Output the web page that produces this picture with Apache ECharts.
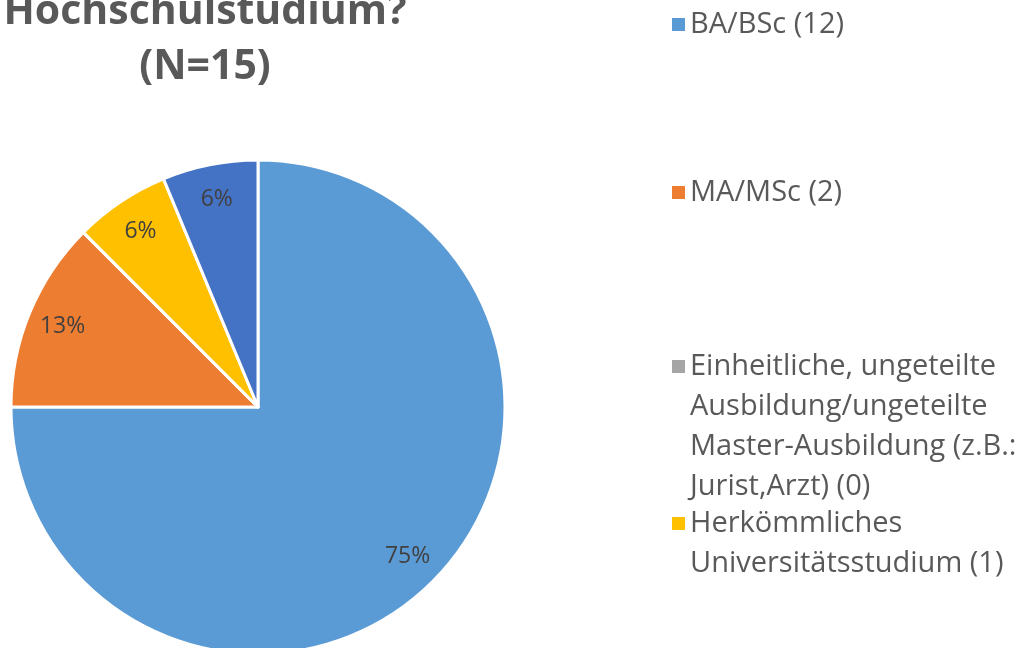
<!DOCTYPE html>
<html><head><meta charset="utf-8">
<script src="https://cdn.jsdelivr.net/npm/echarts@6/dist/echarts.min.js"></script>
<style>html,body{margin:0;padding:0;background:#fff}#c{width:1022px;height:648px}</style>
</head><body><div id="c"></div>
<script>
const titleText = 'Hochschulstudium?\n(N=15)';
const categories = ['BA/BSc (12)', 'MA/MSc (2)', 'Einheitliche, ungeteilte Ausbildung/ungeteilte Master-Ausbildung (z.B.: Jurist,Arzt) (0)', 'Herkömmliches Universitätsstudium (1)', 'Sonstiges (1)'];
const legendLabels = ['BA/BSc (12)', 'MA/MSc (2)', 'Einheitliche, ungeteilte\nAusbildung/ungeteilte\nMaster-Ausbildung (z.B.:\nJurist,Arzt) (0)', 'Herkömmliches\nUniversitätsstudium (1)', 'Sonstiges (1)'];
const values = [12, 2, 0, 1, 1];
const colors = ['#5B9BD5', '#ED7D31', '#A5A5A5', '#FFC000', '#4472C4'];

const FONT = '"Open Sans", sans-serif';
const iconTops = [18, 186, 360, 517, 720];
const LH = 40;
const total = values.reduce((a, b) => a + b, 0);

const chart = echarts.init(document.getElementById('c'));
chart.setOption({
  animation: false,
  backgroundColor: '#fff',
  title: {
    text: titleText, left: 200, top: -20, textAlign: 'center',
    textStyle: { fontFamily: FONT, fontSize: 41, fontWeight: 'bold', color: '#595959', lineHeight: 55 }
  },
  legend: categories.map((name, i) => {
    const lines = legendLabels[i].split('\n');
    const n = lines.length;
    // prepend empty lines so that the first text line sits level with the icon
    const txt = new Array(n - 1).fill('').concat(lines).join('\n');
    return {
      data: [name], left: 672, top: iconTops[i] + 6.5 - (2 * n - 1) * LH / 2,
      padding: 0, orient: 'vertical', icon: 'rect', itemWidth: 13, itemHeight: 13, itemGap: 0,
      selectedMode: false,
      itemStyle: { borderWidth: 0 },
      formatter: () => txt,
      textStyle: { fontFamily: FONT, fontSize: 29, color: '#595959', lineHeight: LH }
    };
  }),
  series: [
    {
      type: 'pie', center: [258, 407], radius: [0, 247], startAngle: 90, clockwise: true,
      avoidLabelOverlap: false, emphasis: { disabled: true },
      itemStyle: { borderColor: '#fff', borderWidth: 3 },
      label: { show: false }, labelLine: { show: false },
      data: categories.map((n, i) => ({ name: n, value: values[i], itemStyle: { color: colors[i] } }))
    },
    {
      type: 'pie', center: [258, 407], radius: [170, 247], startAngle: 90, clockwise: true,
      avoidLabelOverlap: false, silent: true, emphasis: { disabled: true },
      itemStyle: { color: 'rgba(0,0,0,0)', borderWidth: 0 },
      labelLine: { show: false },
      label: {
        show: true, position: 'inside', fontFamily: FONT, fontSize: 23, color: '#404040',
        formatter: p => p.value ? Math.round(p.value / total * 100) + '%' : ''
      },
      data: categories.map((n, i) => ({ name: n, value: values[i] }))
    }
  ]
});
</script></body></html>
